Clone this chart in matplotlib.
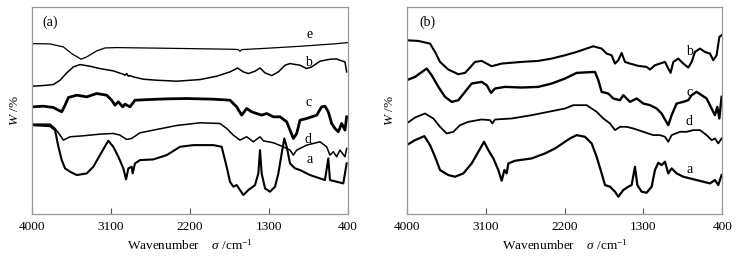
import matplotlib
matplotlib.use("Agg")
import matplotlib.pyplot as plt

plt.rcParams['font.family'] = ['Liberation Serif', 'DejaVu Serif']
plt.rcParams['mathtext.fontset'] = 'custom'
plt.rcParams['mathtext.rm'] = 'Liberation Serif'
plt.rcParams['mathtext.it'] = 'Liberation Serif:italic'

# ---------------- Panel (a) ----------------
a_e_x = [4000, 3791, 3639, 3544, 3449, 3438, 3373, 3260, 3165, 3032, 2462, 1703, 1646, 1627, 1608, 1323, 943, 564, 400]
a_e_y = [512, 511, 502, 482, 467, 465, 472, 490, 499, 500, 498, 495, 494, 489, 494, 498, 504, 511, 515]

a_b_x = [4000, 3867, 3753, 3677, 3601, 3525, 3449, 3336, 3222, 3070, 2956, 2937, 2918, 2899, 2880, 2842, 2728, 2576,
         2348, 2082, 1893, 1741, 1665, 1657, 1589, 1532, 1456, 1399, 1342, 1266, 1190, 1114, 1057, 943, 867, 810,
         716, 602, 526, 488, 431, 412]
a_b_y = [384, 386, 389, 402, 424, 442, 449, 444, 437, 430, 420, 417, 422, 414, 416, 412, 405, 402,
         399, 404, 414, 427, 437, 439, 427, 422, 429, 439, 424, 416, 427, 447, 452, 447, 437, 442,
         459, 465, 466, 462, 457, 427]

a_c_x = [4000, 3867, 3753, 3696, 3658, 3620, 3582, 3487, 3373, 3260, 3146, 3089, 3051, 3013, 2963, 2937, 2880, 2823,
         2652, 2462, 2234, 1931, 1741, 1665, 1608, 1551, 1494, 1437, 1380, 1323, 1247, 1171, 1095, 1057, 1019, 981,
         943, 867, 753, 697, 659, 621, 583, 545, 507, 469, 431, 412]
a_c_y = [322, 324, 320, 312, 307, 327, 350, 357, 352, 362, 357, 342, 327, 337, 322, 330, 322, 342,
         344, 346, 347, 345, 342, 322, 297, 317, 307, 302, 297, 302, 292, 292, 277, 252, 227, 242,
         282, 287, 297, 322, 324, 307, 272, 257, 247, 272, 252, 292]

a_d_x = [4000, 3791, 3734, 3677, 3639, 3563, 3411, 3222, 3070, 2994, 2918, 2861, 2766, 2576, 2348, 2082, 1855, 1779,
         1703, 1627, 1551, 1475, 1399, 1361, 1247, 1133, 1057, 1019, 981, 867, 716, 640, 602, 564, 526, 488, 431, 412]
a_d_y = [270, 270, 257, 237, 222, 232, 235, 240, 242, 237, 224, 227, 244, 254, 266, 274, 272, 257,
         237, 222, 232, 217, 232, 220, 214, 202, 192, 177, 192, 207, 217, 202, 177, 187, 172, 192, 172, 197]

a_a_x = [4000, 3791, 3734, 3696, 3658, 3620, 3563, 3487, 3373, 3298, 3222, 3146, 3127, 3070, 3013, 2956, 2925, 2899,
         2861, 2850, 2823, 2766, 2614, 2462, 2310, 2158, 1931, 1836, 1779, 1741, 1703, 1665, 1627, 1589, 1532, 1456,
         1418, 1399, 1380, 1342, 1285, 1228, 1190, 1152, 1122, 1095, 1057, 1000, 943, 829, 716, 659, 621, 602, 526,
         450, 412]
a_a_y = [267, 264, 252, 202, 162, 137, 127, 117, 122, 142, 177, 212, 220, 202, 172, 137, 104, 137,
         142, 122, 152, 162, 164, 177, 202, 207, 207, 202, 142, 97, 82, 87, 72, 57, 72, 87,
         122, 192, 122, 77, 67, 82, 122, 182, 227, 202, 152, 137, 132, 117, 107, 102, 167, 102, 97,
         92, 152]

# ---------------- Panel (b) ----------------
b_b_x = [4000, 3867, 3734, 3677, 3620, 3525, 3411, 3335, 3278, 3221, 3145, 3088, 3031, 2917, 2689, 2499, 2347, 2195,
         2062, 1872, 1777, 1720, 1663, 1625, 1587, 1549, 1511, 1454, 1359, 1264, 1226, 1169, 1112, 1055, 1017, 990,
         960, 903, 846, 789, 751, 713, 656, 599, 542, 504, 466, 435, 409]
b_b_y = [522, 520, 512, 487, 457, 434, 420, 424, 440, 457, 460, 452, 444, 452, 457, 460, 467, 477,
         487, 504, 497, 482, 477, 452, 462, 484, 457, 452, 445, 442, 434, 447, 452, 457, 437, 424,
         457, 467, 452, 440, 457, 487, 497, 487, 482, 462, 477, 532, 537]

b_c_x = [4000, 3905, 3772, 3715, 3639, 3563, 3487, 3411, 3335, 3259, 3145, 3088, 3038, 2993, 2879, 2689, 2499, 2347,
         2195, 2062, 1853, 1815, 1777, 1701, 1644, 1568, 1530, 1454, 1378, 1302, 1226, 1150, 1093, 1055, 1017, 979,
         922, 846, 789, 751, 694, 637, 580, 523, 485, 458, 435, 409]
b_c_y = [402, 412, 437, 417, 382, 352, 337, 342, 367, 392, 397, 387, 364, 377, 382, 380, 382, 392,
         407, 424, 427, 402, 367, 362, 347, 342, 357, 337, 347, 332, 327, 317, 302, 284, 267, 297,
         332, 337, 342, 357, 367, 357, 347, 317, 297, 322, 287, 352]

b_d_x = [4000, 3905, 3791, 3696, 3620, 3544, 3468, 3392, 3297, 3145, 3050, 3023, 2993, 2803, 2575, 2385, 2195, 2100,
         1948, 1834, 1758, 1682, 1625, 1568, 1492, 1416, 1302, 1188, 1112, 1055, 1017, 979, 884, 808, 732, 656,
         580, 523, 485, 447, 409]
b_d_y = [272, 290, 302, 287, 262, 242, 247, 267, 277, 284, 282, 272, 284, 287, 297, 307, 317, 327,
         327, 307, 287, 272, 252, 262, 262, 257, 247, 237, 237, 232, 217, 237, 247, 247, 252, 252,
         237, 222, 227, 212, 227]

b_a_x = [4000, 3905, 3799, 3734, 3677, 3620, 3525, 3449, 3354, 3259, 3183, 3118, 3069, 3012, 2955, 2917, 2886, 2860,
         2841, 2765, 2575, 2423, 2308, 2195, 2138, 2062, 1967, 1891, 1834, 1777, 1739, 1682, 1625, 1587, 1530, 1473,
         1435, 1397, 1370, 1321, 1264, 1207, 1169, 1131, 1093, 1055, 1017, 979, 922, 846, 770, 694, 618, 542,
         485, 447, 409]
b_a_y = [207, 222, 234, 207, 172, 132, 117, 112, 122, 152, 187, 217, 192, 167, 132, 100, 132, 122,
         152, 160, 167, 182, 197, 217, 227, 237, 232, 212, 172, 122, 87, 82, 67, 52, 72, 82,
         87, 142, 87, 67, 64, 82, 132, 154, 147, 157, 122, 137, 122, 112, 107, 102, 97, 92,
         102, 87, 117]

x_ticks = [4000, 3100, 2200, 1300, 400]
curve_labels_a = ['e', 'b', 'c', 'd', 'a']
curve_labels_b = ['b', 'c', 'd', 'a']

fig = plt.figure(figsize=(7.40, 2.59), dpi=100)
ax1 = fig.add_axes([31.7 / 740, 45 / 259, 316 / 740, 207 / 259])
ax2 = fig.add_axes([406.7 / 740, 45 / 259, 315.7 / 740, 207 / 259])

lw_a = {'e': 0.9, 'b': 1.1, 'c': 2.0, 'd': 1.1, 'a': 1.5}
lw_b = {'b': 1.5, 'c': 1.7, 'd': 1.3, 'a': 1.6}

series_a = {'e': (a_e_x, a_e_y), 'b': (a_b_x, a_b_y), 'c': (a_c_x, a_c_y), 'd': (a_d_x, a_d_y), 'a': (a_a_x, a_a_y)}
series_b = {'b': (b_b_x, b_b_y), 'c': (b_c_x, b_c_y), 'd': (b_d_x, b_d_y), 'a': (b_a_x, b_a_y)}

for k in curve_labels_a:
    x, y = series_a[k]
    ax1.plot(x, y, color='black', lw=lw_a[k])
for k in curve_labels_b:
    x, y = series_b[k]
    ax2.plot(x, y, color='black', lw=lw_b[k])

# curve labels (positions in axes fraction)
lab_a = {'e': (0.88, 0.865), 'b': (0.875, 0.734), 'c': (0.875, 0.541), 'd': (0.875, 0.362), 'a': (0.88, 0.261)}
lab_b = {'b': (0.895, 0.783), 'c': (0.895, 0.585), 'd': (0.895, 0.449), 'a': (0.895, 0.217)}
for k, (px, py) in lab_a.items():
    ax1.text(px, py, k, transform=ax1.transAxes, fontsize=10, ha='center', va='center')
for k, (px, py) in lab_b.items():
    ax2.text(px, py, k, transform=ax2.transAxes, fontsize=10, ha='center', va='center')

ax1.text(0.035, 0.927, '(a)', transform=ax1.transAxes, fontsize=10, ha='left', va='center')
ax2.text(0.04, 0.927, '(b)', transform=ax2.transAxes, fontsize=10, ha='left', va='center')

for ax in (ax1, ax2):
    ax.set_xlim(4000, 400)
    ax.set_ylim(0, 622)
    ax.set_xticks(x_ticks)
    ax.set_xticklabels([str(t) for t in x_ticks])
    ax.set_yticks([])
    ax.tick_params(axis='x', direction='in', length=4, width=0.8, color='#555555', labelsize=9.5, pad=5)
    for s in ax.spines.values():
        s.set_color('#999999')
        s.set_linewidth(0.9)
    ax.set_xlabel(r'Wavenumber    $\it{\sigma}$ /cm$^{-1}$', fontsize=9.5, labelpad=4)
    ax.set_ylabel(r'$\it{W}$ /%', fontsize=9.5, labelpad=8)

fig.savefig('out.png', dpi=100)
